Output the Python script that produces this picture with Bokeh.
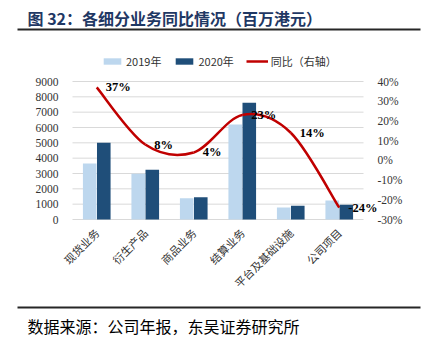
import math
from bokeh.plotting import figure
from bokeh.models import (Range1d, LinearAxis, FixedTicker, PrintfTickFormatter,
                          Legend, LegendItem, ColumnDataSource, LabelSet)
from bokeh.transform import dodge
from bokeh.core.properties import value
from bokeh.embed import file_html
from bokeh.resources import INLINE

# ---- data ----
categories = ["现货业务", "衍生产品", "商品业务", "结算业务", "平台及基础设施", "公司项目"]
rev_2019 = [3650, 2980, 1390, 6200, 785, 1240]
rev_2020 = [5000, 3240, 1450, 7610, 890, 955]
yoy = [37, 8, 4, 23, 14, -24]
yoy_labels = ["37%", "8%", "4%", "23%", "14%", "-24%"]
left_ticks = [0, 1000, 2000, 3000, 4000, 5000, 6000, 7000, 8000, 9000]
right_ticks = [-30, -20, -10, 0, 10, 20, 30, 40]

title_text = "图 32：各细分业务同比情况（百万港元）"
source_text = "数据来源：公司年报，东吴证券研究所"

SERIF = "Liberation Serif"
CJK = "Noto Sans CJK SC"
C19 = "#BDD7EE"
C20 = "#1F4E79"
CRED = "#C00000"
RULE = "#262626"
W, H = 422, 343

# plot-area placement on the canvas (pixels); the frame covers the whole canvas
PL, PR, PT, PB = 72, 363, 81, 219
nc = len(categories)
ppx = (PR - PL) / nc
x_start, x_end = -PL / ppx, nc + (W - PR) / ppx
lv = (left_ticks[-1] - left_ticks[0]) / (PB - PT)
y_start, y_end = left_ticks[0] - (H - PB) * lv, left_ticks[-1] + PT * lv
rv = (right_ticks[-1] - right_ticks[0]) / (PB - PT)
r_start, r_end = right_ticks[0] - (H - PB) * rv, right_ticks[-1] + PT * rv

xs = [i + 0.5 for i in range(nc)]
src = ColumnDataSource(dict(x=xs, a=rev_2019, b=rev_2020, yoy=yoy, lab=yoy_labels))

p = figure(width=W, height=H, x_range=Range1d(x_start, x_end),
           y_range=Range1d(y_start, y_end), output_backend="svg",
           toolbar_location=None, min_border=0, title_location=None)
p.extra_y_ranges = {"r": Range1d(r_start, r_end), "py": Range1d(H, 0)}
p.extra_x_ranges = {"px": Range1d(0, W)}
p.outline_line_color = None
p.grid.visible = False

# horizontal grid lines across the category span
p.segment(x0=0, x1=nc, y0=left_ticks, y1=left_ticks, line_color="#D9D9D9",
          line_width=1)

r19 = p.vbar(x=dodge("x", -0.145, range=p.x_range), top="a", width=0.28,
             source=src, fill_color=C19, line_color=None)
r20 = p.vbar(x=dodge("x", 0.145, range=p.x_range), top="b", width=0.28,
             source=src, fill_color=C20, line_color=None)

# smoothed line (Catmull-Rom style bezier segments between data points)
bx0, by0, bx1, by1, cx0, cy0, cx1, cy1 = [], [], [], [], [], [], [], []
n = len(yoy)
for i in range(n - 1):
    xp = xs[max(i - 1, 0)]; yp = yoy[max(i - 1, 0)]
    xa, ya = xs[i], yoy[i]
    xb, yb = xs[i + 1], yoy[i + 1]
    xn = xs[min(i + 2, n - 1)]; yn = yoy[min(i + 2, n - 1)]
    bx0.append(xa); by0.append(ya); bx1.append(xb); by1.append(yb)
    cx0.append(xa + (xb - xp) / 6); cy0.append(ya + (yb - yp) / 6)
    cx1.append(xb - (xn - xa) / 6); cy1.append(yb - (yn - ya) / 6)
rl = p.bezier(x0=bx0, y0=by0, x1=bx1, y1=by1, cx0=cx0, cy0=cy0, cx1=cx1, cy1=cy1,
              line_color=CRED, line_width=2.5, y_range_name="r")

labels = LabelSet(x="x", y="yoy", text="lab", source=src, y_range_name="r",
                  x_offset=9, text_font=SERIF, text_font_size="12.5px",
                  text_font_style="bold", text_color="#000000",
                  text_baseline="middle", text_align="left")
p.add_layout(labels)

# axes, pinned to the plot-area edges
ax_l = p.yaxis[0]
ax_l.fixed_location = 0
ax_l.ticker = FixedTicker(ticks=left_ticks)
ax_r = LinearAxis(y_range_name="r", ticker=FixedTicker(ticks=right_ticks),
                  formatter=PrintfTickFormatter(format="%d%%"), fixed_location=nc)
p.add_layout(ax_r, "right")
for ax in (ax_l, ax_r):
    ax.axis_line_color = None
    ax.major_tick_line_color = None
    ax.minor_tick_line_color = None
    ax.major_label_text_font = SERIF
    ax.major_label_text_font_size = "11.5px"
    ax.major_label_text_color = "#333333"
ax_l.major_label_standoff = 8
ax_r.major_label_standoff = 8

ax_b = p.xaxis[0]
ax_b.fixed_location = 0
ax_b.ticker = FixedTicker(ticks=xs)
ax_b.major_label_overrides = {x: c for x, c in zip(xs, categories)}
ax_b.axis_line_color = None
ax_b.major_tick_line_color = None
ax_b.minor_tick_line_color = None
ax_b.major_label_orientation = math.pi / 4
ax_b.major_label_text_font = CJK
ax_b.major_label_text_font_size = "11px"
ax_b.major_label_text_color = "#333333"
ax_b.major_label_standoff = 5

legend = Legend(items=[LegendItem(label="2019年", renderers=[r19]),
                       LegendItem(label="2020年", renderers=[r20]),
                       LegendItem(label="同比（右轴）", renderers=[rl])],
                orientation="horizontal", location=(101, H - 69),
                glyph_width=22, glyph_height=8, label_standoff=3, spacing=12,
                label_text_font=CJK, label_text_font_size="11px",
                label_text_color="#333333", background_fill_alpha=0,
                border_line_color=None, padding=2, margin=0)
p.add_layout(legend, "center")

# ---- header and footer (canvas-pixel ranges) ----
p.text(x=[27], y=[17], text=[title_text], x_range_name="px", y_range_name="py",
       text_font=value(CJK), text_font_size="16px", text_font_style="bold",
       text_color="#1F3864", text_baseline="middle", text_align="left")
p.segment(x0=[17, 17], y0=[29, 307], x1=[420, 420], y1=[29, 307],
          x_range_name="px", y_range_name="py", line_color=RULE, line_width=2)
p.text(x=[27], y=[325], text=[source_text], x_range_name="px", y_range_name="py",
       text_font=value(CJK), text_font_size="16px", text_color="#000000",
       text_baseline="middle", text_align="left")

open("out.html", "w").write(file_html(p, INLINE))
